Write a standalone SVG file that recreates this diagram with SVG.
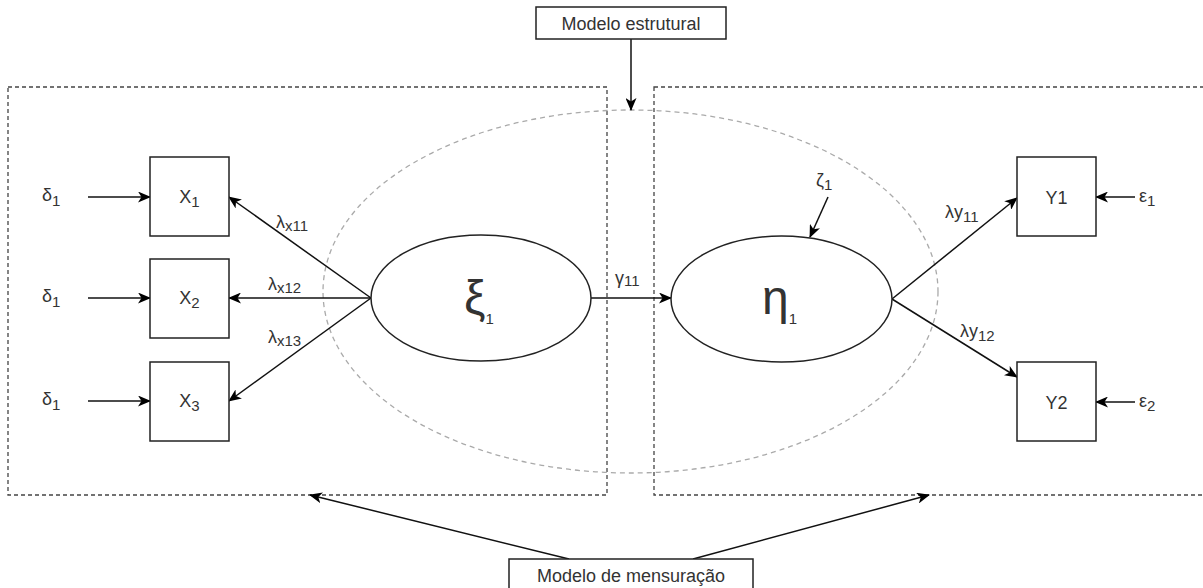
<svg xmlns="http://www.w3.org/2000/svg" width="1203" height="588" viewBox="0 0 1203 588">
<style>
.frame{fill:none;stroke:#444;stroke-width:1.3;stroke-dasharray:4 3}
.halo{fill:none;stroke:#aaa;stroke-width:1.3;stroke-dasharray:5 4}
.box{fill:#fff;stroke:#222;stroke-width:1.5}
.conn line{stroke:#111;stroke-width:1.5;marker-end:url(#arr)}
text{font-family:"Liberation Sans",Arial,sans-serif;fill:#333}
.lbl{font-size:18px}
.big{font-size:48px}
.sub{font-size:15px}
.title{font-size:18px}
</style>
<defs>
<marker id="arr" viewBox="0 0 13 11" refX="12" refY="5.5" markerWidth="13" markerHeight="11" markerUnits="userSpaceOnUse" orient="auto">
<path d="M0,0 L13,5.5 L0,11 L3.5,5.5 Z" fill="#000"/>
</marker>
</defs>
<g id="frames">
<rect class="frame" x="8" y="87" width="599" height="408"/>
<rect class="frame" x="654" y="87" width="560" height="408"/>
<ellipse class="halo" cx="630.5" cy="291.5" rx="307.5" ry="181.5"/>
</g>
<g class="conn" id="connectors">
<line x1="88" y1="197" x2="150" y2="197"/>
<line x1="88" y1="298" x2="150" y2="298"/>
<line x1="88" y1="401" x2="150" y2="401"/>
<line x1="371" y1="298" x2="229" y2="197"/>
<line x1="371" y1="298" x2="229" y2="298"/>
<line x1="371" y1="298" x2="229" y2="401"/>
<line x1="591" y1="298" x2="671" y2="298"/>
<line x1="828" y1="197" x2="810" y2="237"/>
<line x1="892" y1="299" x2="1017" y2="198"/>
<line x1="892" y1="299" x2="1017" y2="377"/>
<line x1="1135" y1="197" x2="1096" y2="197"/>
<line x1="1135" y1="402" x2="1096" y2="402"/>
<line x1="631" y1="39" x2="631" y2="110"/>
<line x1="569" y1="559" x2="310" y2="495"/>
<line x1="693" y1="559" x2="929" y2="495"/>
</g>
<g id="modelo-estrutural">
<rect class="box" x="536" y="7" width="190" height="32"/>
<text class="title" x="631" y="30" text-anchor="middle">Modelo estrutural</text>
</g>
<g id="modelo-mensuracao">
<rect class="box" x="509" y="559" width="244" height="34"/>
<text class="title" x="631" y="582" text-anchor="middle">Modelo de mensuração</text>
</g>
<g id="x1">
<rect class="box" x="150" y="157" width="79" height="79"/>
<text class="lbl" x="189.5" y="203" text-anchor="middle">X<tspan class="sub" dy="4">1</tspan></text>
</g>
<g id="x2">
<rect class="box" x="150" y="259" width="79" height="79"/>
<text class="lbl" x="189.5" y="304" text-anchor="middle">X<tspan class="sub" dy="4">2</tspan></text>
</g>
<g id="x3">
<rect class="box" x="150" y="362" width="79" height="79"/>
<text class="lbl" x="189.5" y="407" text-anchor="middle">X<tspan class="sub" dy="4">3</tspan></text>
</g>
<g id="y1">
<rect class="box" x="1017" y="157" width="79" height="79"/>
<text class="lbl" x="1056.5" y="204" text-anchor="middle">Y1</text>
</g>
<g id="y2">
<rect class="box" x="1017" y="362" width="79" height="79"/>
<text class="lbl" x="1056.5" y="409" text-anchor="middle">Y2</text>
</g>
<g id="xi">
<ellipse class="box" cx="481" cy="298" rx="110" ry="63"/>
<text class="big" x="464" y="314">ξ<tspan class="sub" dy="10">1</tspan></text>
</g>
<g id="eta">
<ellipse class="box" cx="781.5" cy="299" rx="110.5" ry="63"/>
<text class="big" x="762" y="314">η<tspan class="sub" dy="10">1</tspan></text>
</g>
<g id="labels">
<text class="lbl" x="42" y="201">δ<tspan class="sub" dy="5">1</tspan></text>
<text class="lbl" x="42" y="302">δ<tspan class="sub" dy="5">1</tspan></text>
<text class="lbl" x="42" y="405">δ<tspan class="sub" dy="5">1</tspan></text>
<text class="lbl" x="1139" y="202">ε<tspan class="sub" dy="4">1</tspan></text>
<text class="lbl" x="1139" y="407">ε<tspan class="sub" dy="4">2</tspan></text>
<text class="lbl" x="276" y="228">λ<tspan class="sub" dy="3">x11</tspan></text>
<text class="lbl" x="268" y="290">λ<tspan class="sub" dy="3">x12</tspan></text>
<text class="lbl" x="268" y="343">λ<tspan class="sub" dy="3">x13</tspan></text>
<text class="lbl" x="945" y="218">λy<tspan class="sub" dy="4">11</tspan></text>
<text class="lbl" x="960" y="337">λy<tspan class="sub" dy="4">12</tspan></text>
<text class="lbl" x="615" y="284">γ<tspan class="sub" dy="2">11</tspan></text>
<text class="lbl" x="816" y="186">ζ<tspan class="sub" dy="4">1</tspan></text>
</g>
</svg>
